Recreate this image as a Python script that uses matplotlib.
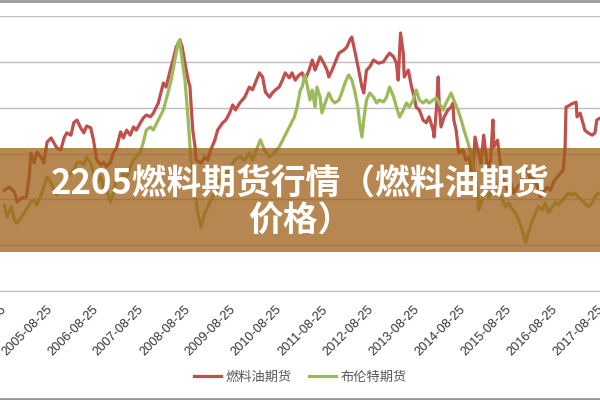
import matplotlib.pyplot as plt
from matplotlib.patches import Rectangle
from matplotlib.lines import Line2D

plt.rcParams['font.family'] = ['Noto Sans CJK SC', 'DejaVu Sans']

# fuel oil futures (primary axis, 0-6000), time as decimal year
fuel_t = [2004.74, 2004.85, 2004.96, 2005.02, 2005.11, 2005.22, 2005.28, 2005.32, 2005.39, 2005.45,
          2005.54, 2005.60, 2005.67, 2005.76, 2005.82, 2005.88, 2005.97, 2006.04, 2006.10, 2006.19,
          2006.25, 2006.32, 2006.40, 2006.47, 2006.53, 2006.62, 2006.68, 2006.75, 2006.84, 2006.90,
          2006.96, 2007.05, 2007.12, 2007.18, 2007.27, 2007.33, 2007.40, 2007.48, 2007.55, 2007.61,
          2007.70, 2007.76, 2007.83, 2007.92, 2007.98, 2008.09, 2008.20, 2008.26, 2008.35, 2008.41,
          2008.48, 2008.56, 2008.61, 2008.67, 2008.74, 2008.78, 2008.80, 2008.84, 2008.89, 2008.91,
          2009.02, 2009.10, 2009.17, 2009.23, 2009.32, 2009.38, 2009.49, 2009.56, 2009.64, 2009.71,
          2009.77, 2009.86, 2009.97, 2010.07, 2010.14, 2010.20, 2010.29, 2010.36, 2010.42, 2010.51,
          2010.57, 2010.64, 2010.72, 2010.79, 2010.85, 2010.94, 2011.00, 2011.07, 2011.15, 2011.22,
          2011.28, 2011.37, 2011.44, 2011.50, 2011.61, 2011.69, 2011.76, 2011.80, 2011.87, 2011.93,
          2012.02, 2012.13, 2012.19, 2012.26, 2012.30, 2012.36, 2012.45, 2012.52, 2012.56, 2012.62,
          2012.69, 2012.77, 2012.88, 2012.99, 2013.06, 2013.12, 2013.21, 2013.27, 2013.31, 2013.36,
          2013.42, 2013.44, 2013.53, 2013.60, 2013.66, 2013.70, 2013.77, 2013.85, 2013.92, 2013.98,
          2014.07, 2014.09, 2014.14, 2014.18, 2014.20, 2014.24, 2014.31, 2014.39, 2014.46, 2014.50,
          2014.52, 2014.57, 2014.61, 2014.63, 2014.72, 2014.78, 2014.85, 2014.93, 2014.98, 2015.04,
          2015.11, 2015.17, 2015.26, 2015.32, 2015.37, 2015.39, 2015.47, 2015.54, 2015.60, 2015.69,
          2015.76, 2015.82, 2015.91, 2015.97, 2016.04, 2016.12, 2016.19, 2016.25, 2016.34, 2016.40,
          2016.47, 2016.55, 2016.62, 2016.68, 2016.77, 2016.84, 2016.90, 2016.94, 2016.96, 2017.05,
          2017.12, 2017.18, 2017.20, 2017.27, 2017.31, 2017.37, 2017.44, 2017.53, 2017.59, 2017.63,
          2017.70]
fuel_v = [2200, 2270, 2160, 1940, 2030, 2050, 2490, 3010, 2790, 3030,
          2920, 2790, 3250, 3340, 3230, 3120, 3080, 3340, 3450, 3400,
          3670, 3730, 3560, 3450, 3600, 3560, 3290, 2860, 2750, 2810,
          2710, 2810, 3030, 3120, 3470, 3340, 3510, 3400, 3580, 3510,
          3670, 3770, 3840, 3800, 3880, 4100, 4540, 4450, 4820, 5040,
          5320, 5480, 5320, 4970, 4600, 4450, 4100, 3510, 3140, 2860,
          2790, 2920, 2860, 3080, 3290, 3510, 3670, 3730, 3880, 4060,
          3950, 4100, 4230, 4450, 4390, 4540, 4760, 4670, 4340, 4230,
          4320, 4390, 4450, 4600, 4760, 4650, 4760, 4600, 4710, 4760,
          4600, 4820, 5040, 4820, 5110, 4970, 4820, 4670, 4820, 4970,
          5190, 5260, 5320, 5480, 5540, 5260, 4820, 4450, 4320, 4820,
          4890, 5040, 4970, 5000, 5110, 5190, 5110, 4970, 4600, 5630,
          5190, 4670, 4820, 4450, 4230, 4010, 3950, 3730, 3670, 3800,
          3510, 3360, 3950, 4670, 4100, 3580, 3800, 3950, 4010, 4100,
          3730, 3510, 3140, 3010, 3080, 2860, 2920, 2490, 3360, 3080,
          2790, 3400, 2640, 2860, 3730, 3140, 3290, 2710, 2420, 2200,
          2360, 2140, 2270, 2360, 2570, 2640, 2420, 2490, 2270, 2050,
          2140, 2270, 2200, 2360, 2490, 2570, 2640, 3140, 4010, 4060,
          4100, 4120, 3800, 3880, 3730, 3510, 3450, 3400, 3450, 3730,
          3770]

# brent futures (secondary axis, 0-160)
brent_t = [2004.74, 2004.80, 2004.89, 2004.96, 2005.02, 2005.11, 2005.17, 2005.24, 2005.32, 2005.39,
           2005.45, 2005.54, 2005.60, 2005.67, 2005.76, 2005.82, 2005.88, 2005.97, 2006.04, 2006.10,
           2006.19, 2006.25, 2006.32, 2006.40, 2006.47, 2006.53, 2006.62, 2006.68, 2006.75, 2006.84,
           2006.90, 2006.96, 2007.05, 2007.12, 2007.18, 2007.27, 2007.33, 2007.40, 2007.48, 2007.55,
           2007.61, 2007.70, 2007.76, 2007.83, 2007.92, 2007.98, 2008.09, 2008.20, 2008.30, 2008.37,
           2008.45, 2008.52, 2008.56, 2008.58, 2008.67, 2008.74, 2008.80, 2008.89, 2008.95, 2009.02,
           2009.10, 2009.17, 2009.23, 2009.32, 2009.38, 2009.49, 2009.64, 2009.75, 2009.86, 2009.97,
           2010.07, 2010.14, 2010.25, 2010.31, 2010.40, 2010.51, 2010.61, 2010.72, 2010.83, 2010.94,
           2011.05, 2011.11, 2011.18, 2011.22, 2011.28, 2011.35, 2011.39, 2011.44, 2011.50, 2011.54,
           2011.61, 2011.65, 2011.72, 2011.80, 2011.87, 2011.93, 2012.02, 2012.08, 2012.15, 2012.23,
           2012.30, 2012.36, 2012.43, 2012.47, 2012.52, 2012.56, 2012.62, 2012.69, 2012.77, 2012.84,
           2012.90, 2012.99, 2013.06, 2013.12, 2013.21, 2013.27, 2013.34, 2013.42, 2013.49, 2013.55,
           2013.64, 2013.70, 2013.77, 2013.85, 2013.92, 2013.98, 2014.07, 2014.14, 2014.20, 2014.29,
           2014.35, 2014.42, 2014.46, 2014.52, 2014.61, 2014.68, 2014.74, 2014.83, 2014.89, 2014.96,
           2015.04, 2015.06, 2015.15, 2015.22, 2015.28, 2015.37, 2015.43, 2015.50, 2015.58, 2015.65,
           2015.71, 2015.80, 2015.86, 2015.93, 2016.01, 2016.08, 2016.14, 2016.23, 2016.30, 2016.36,
           2016.45, 2016.51, 2016.58, 2016.66, 2016.73, 2016.79, 2016.88, 2016.94, 2017.01, 2017.09,
           2017.16, 2017.22, 2017.31, 2017.37, 2017.44, 2017.53, 2017.59, 2017.66, 2017.70]
brent_v = [50.0, 43.1, 48.9, 41.3, 39.6, 43.1, 45.4, 48.3, 51.8, 52.9,
           50.0, 55.9, 60.5, 66.3, 62.8, 58.8, 55.9, 60.5, 64.6, 66.3,
           68.7, 70.4, 74.5, 75.1, 73.3, 78.0, 74.5, 68.7, 62.8, 66.3,
           59.9, 58.8, 51.8, 57.6, 66.3, 64.6, 68.7, 66.3, 72.1, 76.2,
           78.0, 80.9, 86.1, 93.7, 95.4, 93.7, 99.5, 105.3, 115.2, 122.8,
           134.4, 144.3, 146.0, 140.2, 122.8, 99.5, 76.2, 57.0, 45.4, 37.2,
           45.4, 48.9, 52.9, 57.0, 62.8, 66.3, 70.4, 76.2, 78.0, 76.2,
           80.3, 76.2, 83.8, 87.9, 82.0, 78.0, 80.3, 83.8, 89.6, 95.4,
           101.2, 107.1, 116.9, 118.7, 125.7, 116.9, 111.1, 116.9, 107.1, 118.7,
           112.9, 103.6, 109.4, 115.2, 111.1, 109.4, 111.1, 115.2, 121.0, 125.7,
           122.8, 116.9, 107.1, 97.7, 89.6, 99.5, 111.1, 115.2, 112.9, 109.4,
           111.1, 110.0, 112.9, 118.7, 112.9, 107.1, 101.2, 105.3, 109.4, 107.1,
           111.1, 116.9, 111.1, 109.4, 111.1, 109.4, 111.1, 112.3, 109.4, 105.3,
           109.4, 112.9, 115.2, 111.1, 105.3, 99.5, 93.7, 86.1, 80.3, 70.4,
           57.0, 47.1, 54.7, 58.8, 54.7, 60.5, 62.8, 57.0, 52.9, 48.9,
           51.2, 47.1, 45.4, 41.3, 35.5, 27.9, 33.7, 41.3, 45.4, 48.9,
           47.1, 51.2, 45.4, 48.9, 51.8, 50.0, 52.9, 54.7, 57.0, 55.9,
           57.0, 54.7, 52.9, 51.2, 48.9, 51.2, 54.7, 57.0, 57.0]

tick_years = list(range(2004, 2018))
tick_labels = ['%d-08-25' % y for y in tick_years]
title = '2205燃料期货行情（燃料油期货\n价格）'

fig = plt.figure(figsize=(6, 4), dpi=100)
ax = fig.add_axes([0, 0.2725, 1, 0.6875])
ax2 = ax.twinx()

ax.plot(fuel_t, fuel_v, color='#C0504D', lw=2.3, label='燃料油期货', zorder=3)
ax2.plot(brent_t, brent_v, color='#9BBB59', lw=2.3, label='布伦特期货', zorder=3)

ax.set_xlim(2004.74, 2017.70)
ax.set_ylim(0, 6000)
ax2.set_ylim(0, 160)
ax.set_yticks(range(0, 7000, 1000))
ax.grid(axis='y', color='#BFBFBF', lw=1)
ax.set_axisbelow(True)
ax.tick_params(axis='y', left=False, labelleft=False)
ax2.tick_params(axis='y', right=False, labelright=False)
for a in (ax, ax2):
    for s in ['top', 'left', 'right']:
        a.spines[s].set_visible(False)
    a.spines['bottom'].set_color('#BFBFBF')

ax.set_xticks([y + 0.646 for y in tick_years])
ax.set_xticklabels(tick_labels, rotation=45, ha='right', rotation_mode='anchor',
                   fontsize=9.2, color='#333333', family='Liberation Sans')
ax.tick_params(axis='x', length=0, pad=9)

h1, l1 = ax.get_legend_handles_labels()
h2, l2 = ax2.get_legend_handles_labels()
fig.legend(h1 + h2, l1 + l2, loc='center', bbox_to_anchor=(0.5, 0.0575), ncol=2,
           frameon=False, fontsize=9.5, labelcolor='#595959', handlelength=2.1,
           handletextpad=0.3, columnspacing=1.3)

# overlay banner with title
fig.patches.append(Rectangle((0, 0.37), 1, 0.26, transform=fig.transFigure,
                             facecolor='#9E5F16', alpha=0.75, zorder=10))
fig.text(0.5, 0.495, title, ha='center', va='center', color='white', fontsize=25,
         fontweight='heavy', linespacing=1.1, zorder=11)

fig.add_artist(Line2D([0, 1], [0.998, 0.998], color='#999999', lw=2))
fig.add_artist(Line2D([0, 1], [0.003, 0.003], color='#999999', lw=2))

fig.savefig('out.png', dpi=100)
